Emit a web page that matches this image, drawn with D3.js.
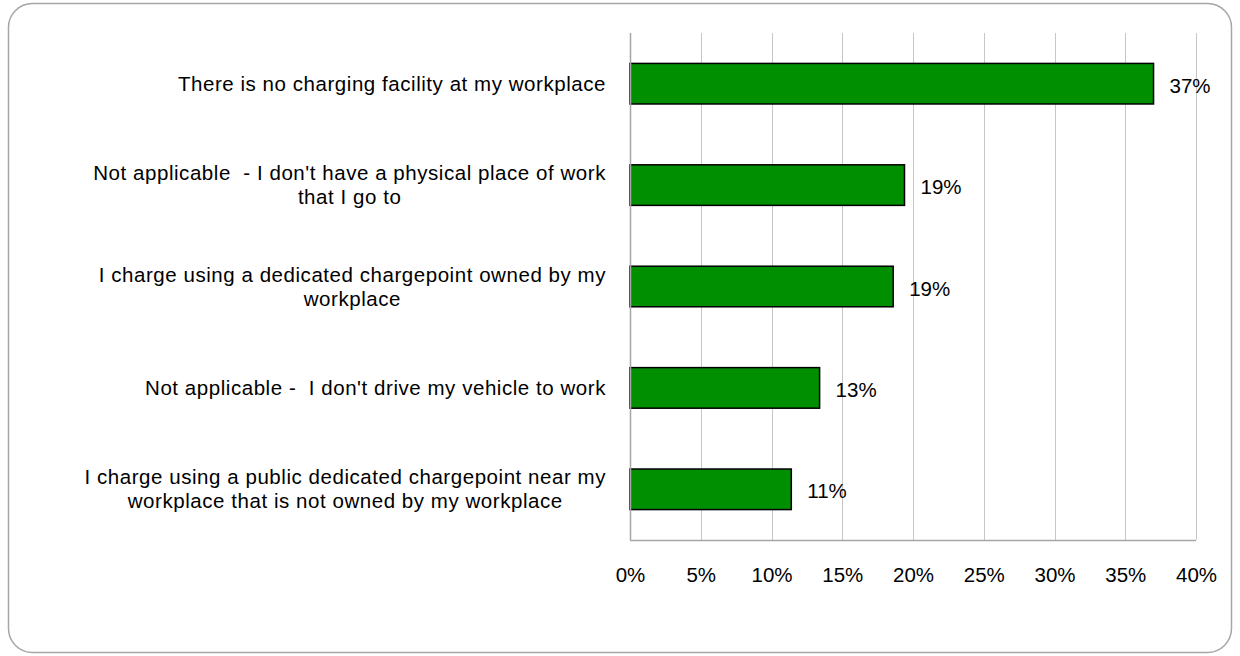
<!DOCTYPE html>
<html>
<head>
<meta charset="utf-8">
<script src="https://cdn.jsdelivr.net/npm/d3@7"></script>
<style>
  html, body { margin: 0; padding: 0; background: #ffffff; }
  svg { display: block; }
  text { font-family: "Liberation Sans", Arial, sans-serif; fill: #000; white-space: pre; }
</style>
</head>
<body>
<svg id="chart" width="1240" height="656"></svg>
<script>
// Where respondents charge at work (share of respondents)
const categories = [
  ["There is no charging facility at my workplace"],
  ["Not applicable  - I don't have a physical place of work", "that I go to"],
  ["I charge using a dedicated chargepoint owned by my", "workplace"],
  ["Not applicable -  I don't drive my vehicle to work"],
  ["I charge using a public dedicated chargepoint near my", "workplace that is not owned by my workplace"]
];
const shares = [37.0, 19.4, 18.6, 13.4, 11.4];
const tickValues = [0, 5, 10, 15, 20, 25, 30, 35, 40];

const svg = d3.select("#chart");
const W = 1240, H = 656;
const plot = { left: 630, right: 1196, top: 33, bottom: 540 };
const fontSize = "20.5px";

// outer rounded frame
svg.append("rect")
  .attr("x", 8.5).attr("y", 3.5)
  .attr("width", W - 17).attr("height", H - 7)
  .attr("rx", 24).attr("ry", 24)
  .attr("fill", "#fff")
  .attr("stroke", "#a6a6a6").attr("stroke-width", 1.5);

const x = d3.scaleLinear().domain([0, 40]).range([plot.left, plot.right]);
const idx = d3.range(categories.length);
const y = d3.scaleBand().domain(idx).range([plot.top, plot.bottom])
  .paddingInner(0.6).paddingOuter(0.3);

// vertical gridlines
svg.append("g").selectAll("line").data(tickValues.slice(1)).join("line")
  .attr("x1", d => Math.round(x(d)) + 0.5).attr("x2", d => Math.round(x(d)) + 0.5)
  .attr("y1", plot.top).attr("y2", plot.bottom)
  .attr("stroke", "#c6c6c6").attr("stroke-width", 1);

// bars
svg.append("g").selectAll("rect").data(idx).join("rect")
  .attr("x", x(0))
  .attr("y", i => y(i))
  .attr("width", i => x(shares[i]) - x(0))
  .attr("height", y.bandwidth())
  .attr("fill", "#008f00")
  .attr("stroke", "#000").attr("stroke-width", 1.5);

// value axis line along the base and category axis line
svg.append("line")
  .attr("x1", x(0)).attr("x2", x(40))
  .attr("y1", plot.bottom + 0.5).attr("y2", plot.bottom + 0.5)
  .attr("stroke", "#a6a6a6").attr("stroke-width", 1.5);
svg.append("line")
  .attr("x1", Math.round(x(0)) + 0.5).attr("x2", Math.round(x(0)) + 0.5)
  .attr("y1", plot.top).attr("y2", plot.bottom)
  .attr("stroke", "#a6a6a6").attr("stroke-width", 1.5);

// tick labels
const xAxis = d3.axisBottom(x).tickValues(tickValues)
  .tickFormat(d => d + "%").tickSize(0).tickPadding(0);
const ax = svg.append("g").attr("transform", `translate(0,${plot.bottom + 35})`).call(xAxis);
ax.select(".domain").remove();
ax.selectAll("text")
  .attr("dy", "0.35em").attr("y", 0)
  .style("font-family", "'Liberation Sans', Arial, sans-serif")
  .style("font-size", fontSize).attr("fill", "#000");

// value labels
svg.append("g").selectAll("text").data(idx).join("text")
  .attr("x", i => x(shares[i]) + 16)
  .attr("y", i => y(i) + y.bandwidth() / 2 + 2)
  .attr("dy", "0.35em")
  .style("font-size", fontSize)
  .text(i => Math.round(shares[i]) + "%");

// category labels: one text per category, block right-aligned to the axis,
// wrapped lines centred within the block
const labelRight = plot.left - 24;
const lineGap = 24;
const catG = svg.append("g");
idx.forEach(i => {
  const lines = categories[i];
  const t = catG.append("text")
    .style("font-size", fontSize)
    .style("letter-spacing", "0.55px")
    .attr("text-anchor", "middle");
  const spans = lines.map((ln, k) => t.append("tspan")
    .attr("dy", "0.35em")
    .attr("y", y(i) + y.bandwidth() / 2 + (k - (lines.length - 1) / 2) * lineGap)
    .text(ln));
  const maxW = d3.max(spans, s => s.node().getComputedTextLength());
  spans.forEach(s => s.attr("x", labelRight - maxW / 2));
});
</script>
</body>
</html>
